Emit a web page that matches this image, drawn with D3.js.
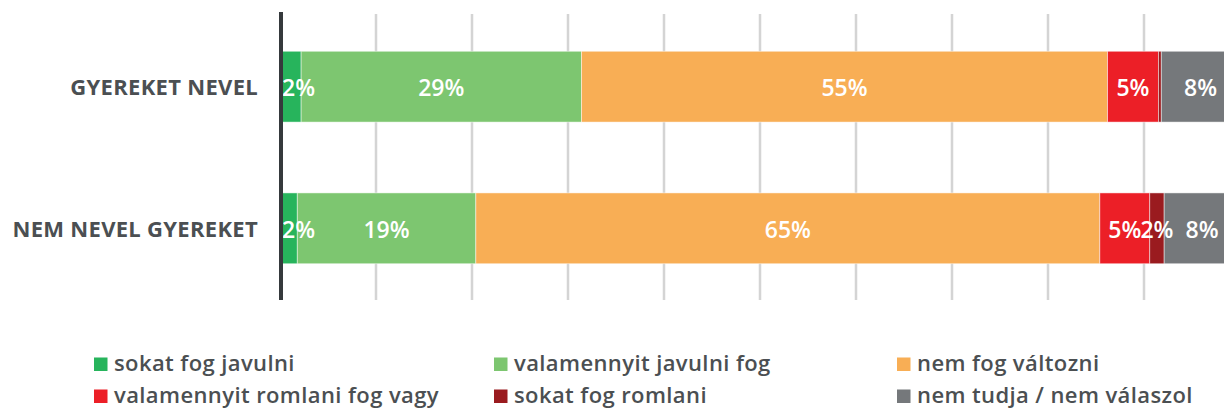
<!DOCTYPE html>
<html>
<head>
<meta charset="utf-8">
<script src="https://cdn.jsdelivr.net/npm/d3@7"></script>
<style>
  html, body { margin: 0; padding: 0; background: #fff; overflow: hidden; }
  svg { display: block; }
</style>
</head>
<body>
<svg id="chart" width="1224" height="408"></svg>
<script>
// ---- data ----
const categories = ["GYEREKET NEVEL", "NEM NEVEL GYEREKET"];
const seriesNames = [
  "sokat fog javulni",
  "valamennyit javulni fog",
  "nem fog változni",
  "valamennyit romlani fog vagy",
  "sokat fog romlani",
  "nem tudja / nem válaszol"
];
const seriesColors = ["#27b45c", "#7dc670", "#f8ae55", "#ec1f27", "#9a1b1f", "#75787b"];
// values per category, in series order (percent)
const gyereketNevel = [2.2, 29.2, 54.8, 5.3, 0.3, 8.2];
const nemNevel      = [1.8, 18.6, 65.0, 5.2, 1.5, 7.9];
const gridTicks = [10, 20, 30, 40, 50, 60, 70, 80, 90, 100];

const valuesByCat = [gyereketNevel, nemNevel];

// ---- layout ----
const svg = d3.select("#chart");
const font = "'Open Sans', sans-serif";
const textColor = "#4b4f52";

const x = d3.scaleLinear().domain([0, 100]).range([280, 1240]);
const y = d3.scaleBand().domain(categories).range([13, 302])
  .paddingInner(0.5).paddingOuter(0.27);

// gridlines
svg.append("g").selectAll("line").data(gridTicks).join("line")
  .attr("x1", d => x(d)).attr("x2", d => x(d))
  .attr("y1", 14).attr("y2", 300)
  .attr("stroke", "#d4d4d4").attr("stroke-width", 2.5);

// stacked data
const rows = categories.map((c, i) => {
  let acc = 0;
  return valuesByCat[i].map((v, j) => {
    const seg = { cat: c, s: j, v, x0: acc, x1: acc + v };
    acc += v;
    return seg;
  });
});

const barG = svg.append("g");
rows.forEach(segs => {
  barG.selectAll(null).data(segs).join("rect")
    .attr("x", d => x(d.x0))
    .attr("width", d => x(d.x1) - x(d.x0))
    .attr("y", d => y(d.cat))
    .attr("height", y.bandwidth())
    .attr("fill", d => seriesColors[d.s])
    .attr("stroke", "rgba(255,255,255,0.6)")
    .attr("stroke-width", 0.8);
});

// value labels
rows.forEach(segs => {
  barG.selectAll(null).data(segs.filter(d => Math.round(d.v) >= 1)).join("text")
    .attr("y", d => y(d.cat) + y.bandwidth() / 2)
    .attr("dy", "0.4em")
    .attr("text-anchor", "middle")
    .attr("fill", "#fff")
    .style("font-family", font)
    .style("font-weight", 600)
    .style("font-size", "23px")
    .text(d => Math.round(d.v) + "%")
    .attr("x", function(d) {
      const w = this.getComputedTextLength();
      const c = (x(d.x0) + x(d.x1)) / 2;
      return Math.max(c, x(0) + w / 2 + 2);
    });
});

// axis line
svg.append("line")
  .attr("x1", 281).attr("x2", 281)
  .attr("y1", 12).attr("y2", 300)
  .attr("stroke", "#35393c").attr("stroke-width", 4);

// category labels
svg.append("g").selectAll("text").data(categories).join("text")
  .attr("x", 258)
  .attr("y", d => y(d) + y.bandwidth() / 2)
  .attr("dy", "0.38em")
  .attr("text-anchor", "end")
  .attr("fill", textColor)
  .style("font-family", font)
  .style("font-weight", 700)
  .style("font-size", "22px")
  .style("letter-spacing", "0.3px")
  .text(d => d);

// legend
const legX = [94, 494, 897];
const legY = [371, 403];
const leg = svg.append("g").selectAll("g").data(seriesNames).join("g")
  .attr("transform", (d, i) => `translate(${legX[i % 3]},${legY[Math.floor(i / 3)]})`);
leg.append("rect")
  .attr("x", 0).attr("y", -13.5).attr("width", 13.5).attr("height", 13.5)
  .attr("fill", (d, i) => seriesColors[i]);
leg.append("text")
  .attr("x", 20).attr("y", 0)
  .attr("fill", textColor)
  .style("font-family", font)
  .style("font-weight", 600)
  .style("font-size", "22px")
  .style("letter-spacing", "0.4px")
  .text(d => d);
</script>
</body>
</html>
